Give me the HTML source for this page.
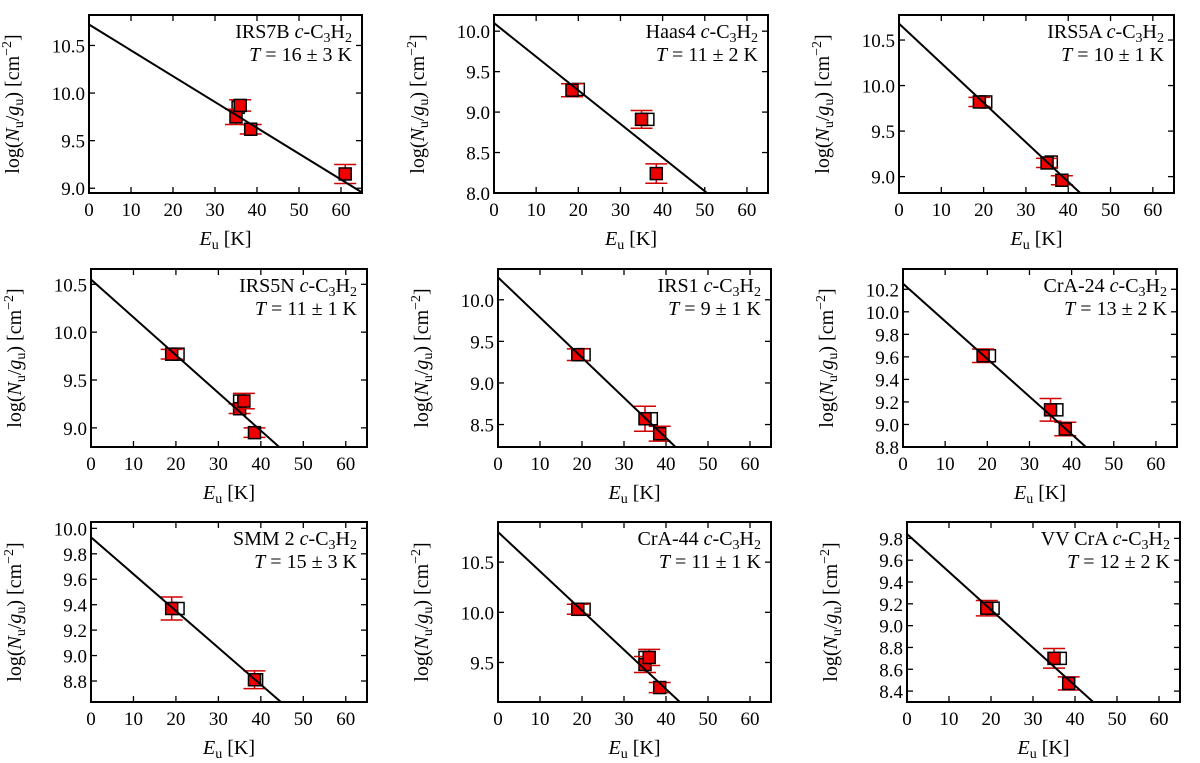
<!DOCTYPE html>
<html><head><meta charset="utf-8"><style>
body{margin:0;background:#fff;}
svg{display:block;font-family:"Liberation Serif",serif;}
</style></head><body>
<svg id="fig" width="1200" height="763" viewBox="0 0 1200 763"></svg>
<script>
// Panel data (top-level arrays)
const names = ["IRS7B","Haas4","IRS5A","IRS5N","IRS1","CrA-24","SMM 2","CrA-44","VV CrA"];
const temps = [16,11,10,11,9,13,15,11,12];
const tempErrs = [3,2,1,1,1,2,3,1,2];
const fitTemps = [16,10.45,10,11,9,13,15,11.1,12.5];
const intercepts = [10.72,10.10,10.68,10.55,10.27,10.25,9.93,10.80,9.84];
const filledE = [[35,36,38.5,61],[18.5,35,38.5],[19,35,38.5],[19,35,36,38.5],[19,35,38.5],[19,35,38.5],[19,38.5],[19,35,36,38.5],[19,35,38.5]];
const filledN = [[9.75,9.87,9.62,9.15],[9.27,8.91,8.24],[9.82,9.15,8.96],[9.77,9.20,9.28,8.95],[9.34,8.57,8.39],[9.61,9.13,8.96],[9.37,8.81],[10.03,9.48,9.55,9.25],[9.16,8.70,8.47]];
const filledErr = [[0.08,0.06,0.05,0.10],[0.08,0.11,0.12],[0.05,0.05,0.05],[0.05,0.05,0.08,0.05],[0.07,0.15,0.09],[0.06,0.10,0.06],[0.09,0.07],[0.05,0.08,0.08,0.05],[0.07,0.09,0.06]];
const openE = [[35.5],[20,36.5],[20.5,36],[20.5,35],[20.5,36.5],[20.5,36.5],[20.5,39],[20.5,35],[20.5,36.5]];
const openN = [[9.85],[9.28,8.91],[9.82,9.16],[9.77,9.28],[9.34,8.57],[9.61,9.13],[9.37,8.81],[10.03,9.55],[9.16,8.70]];
const yMins = [8.95,8.0,8.82,8.80,8.23,8.80,8.635,9.106,8.30];
const yMaxs = [10.82,10.2,10.775,10.66,10.37,10.38,10.05,10.9,9.95];
const yTickVals = [[9.0,9.5,10.0,10.5],[8.0,8.5,9.0,9.5,10.0],[9.0,9.5,10.0,10.5],[9.0,9.5,10.0,10.5],[8.5,9.0,9.5,10.0],[8.8,9.0,9.2,9.4,9.6,9.8,10.0,10.2],[8.8,9.0,9.2,9.4,9.6,9.8,10.0],[9.5,10.0,10.5],[8.4,8.6,8.8,9.0,9.2,9.4,9.6,9.8]];
const xTickVals = [0,10,20,30,40,50,60];
const xMin = 0, xMax = 65;

const boxes = [[89,362,15,193],[494,768,15,193],[899,1174,15,193],
               [91,367,269,447],[498,771,269,447],[903,1177,269,447],
               [91,367,522,702],[498,771,522,702],[907,1180,522,702]];
const NS="http://www.w3.org/2000/svg";
const svg=document.getElementById('fig');
function mk(tag,attrs,parent){const e=document.createElementNS(NS,tag);for(const k in attrs)e.setAttribute(k,attrs[k]);(parent||svg).appendChild(e);return e;}

for(let p=0;p<9;p++){
  const [L,R,T,B]=boxes[p];
  const g=mk('g',{});
  
  
  const xs=v=>L+(v-xMin)/(xMax-xMin)*(R-L);
  const ys=v=>B-(v-yMins[p])/(yMaxs[p]-yMins[p])*(B-T);
  const clipId='c'+p;
  const cp=mk('clipPath',{id:clipId},g);mk('rect',{x:L,y:T,width:R-L,height:B-T},cp);
  xTickVals.forEach(v=>{
    const x=xs(v);
    const t1=mk('line',{x1:x,x2:x,y1:B,y2:B-6,stroke:'#000','stroke-width':1.3},g);
    
    
    mk('line',{x1:x,x2:x,y1:T,y2:T+6,stroke:'#000','stroke-width':1.3},g);
    const tx=mk('text',{x:x,y:B+23,'text-anchor':'middle','font-size':19},g);
    tx.textContent=v;
    
    
  });
  yTickVals[p].forEach(v=>{
    const y=ys(v);
    const t1=mk('line',{x1:L,x2:L+6,y1:y,y2:y,stroke:'#000','stroke-width':1.3},g);
    
    
    mk('line',{x1:R,x2:R-6,y1:y,y2:y,stroke:'#000','stroke-width':1.3},g);
    const ty=mk('text',{x:L-4,y:y+7,'text-anchor':'end','font-size':19},g);
    ty.textContent=v.toFixed(1);
    
    
  });
  const dg=mk('g',{'clip-path':'url(#'+clipId+')'},g);
  openE[p].forEach((e,i)=>{
    const s=mk('rect',{x:xs(e)-6,y:ys(openN[p][i])-6,width:12,height:12,fill:'#fff',stroke:'#000','stroke-width':1.5},dg);
    
    
  });
  filledE[p].forEach((e,i)=>{
    const x=xs(e),y=ys(filledN[p][i]),y1=ys(filledN[p][i]+filledErr[p][i]),y2=ys(filledN[p][i]-filledErr[p][i]);
    const eb=mk('path',{d:`M${x},${y1}V${y2}M${x-11},${y1}H${x+11}M${x-11},${y2}H${x+11}`,stroke:'#d00000','stroke-width':1.5,fill:'none'},dg);
    
    
    const s=mk('rect',{x:x-6,y:y-6,width:12,height:12,fill:'#ee0000',stroke:'#000','stroke-width':1.5},dg);
    
    
  });
  const slope=-0.4343/fitTemps[p];
  const fl=mk('line',{x1:xs(xMin),y1:ys(intercepts[p]),x2:xs(xMax),y2:ys(intercepts[p]+slope*xMax),stroke:'#000','stroke-width':2},dg);
  
  
  const fr=mk('rect',{x:L,y:T,width:R-L,height:B-T,fill:'none',stroke:'#000','stroke-width':2},g);
  
  
  const a1=mk('text',{x:R-10,y:T+23,'text-anchor':'end','font-size':20},g);
  a1.innerHTML=names[p]+' <tspan font-style="italic">c</tspan>-C<tspan font-size="14" dy="4">3</tspan><tspan dy="-4">H</tspan><tspan font-size="14" dy="4">2</tspan>';
  
  
  const a2=mk('text',{x:R-10,y:T+46,'text-anchor':'end','font-size':20},g);
  a2.innerHTML='<tspan font-style="italic">T</tspan> = '+temps[p]+' ± '+tempErrs[p]+' K';
  
  
  const xl=mk('text',{x:(L+R)/2,y:B+52,'text-anchor':'middle','font-size':20},g);
  xl.innerHTML='<tspan font-style="italic">E</tspan><tspan font-size="14" dy="4">u</tspan><tspan dy="-4"> [K]</tspan>';
  
  
  const cx=L-70,cy=(T+B)/2;
  const yl=mk('text',{x:cx,y:cy,'text-anchor':'middle','font-size':20,transform:`rotate(-90 ${cx} ${cy})`},g);
  yl.innerHTML='log(<tspan font-style="italic">N</tspan><tspan font-size="14" dy="4">u</tspan><tspan dy="-4">/</tspan><tspan font-style="italic">g</tspan><tspan font-size="14" dy="4">u</tspan><tspan dy="-4">) [cm</tspan><tspan font-size="14" dy="-8">−2</tspan><tspan dy="8">]</tspan>';
  
  
}
</script>
</body></html>
